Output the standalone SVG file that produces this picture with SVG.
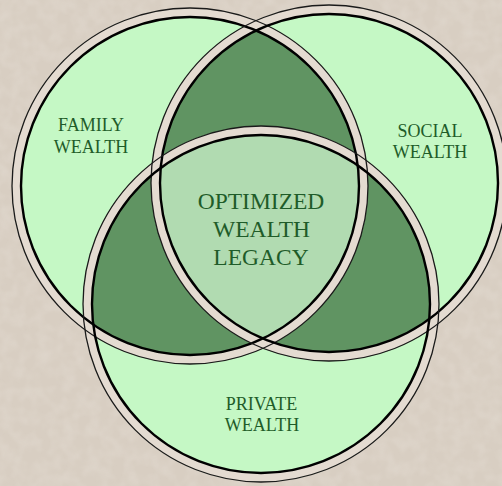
<svg xmlns="http://www.w3.org/2000/svg" width="502" height="486" viewBox="0 0 502 486">
<style>
.lt{fill:#c5f8c5}
.dk{fill:#609462}
.ct{fill:#b1dbb1}
.band{fill:none;stroke:#e4dbd1;stroke-width:9}
.thin{fill:none;stroke:#1a1a1a;stroke-width:1.3}
.thick{fill:none;stroke:#000;stroke-width:2.4}
.lbl{font-family:"Liberation Serif","Times New Roman",serif;fill:#1f5c29;text-anchor:middle}
.sm{font-size:18px}
.lg{font-size:23.5px}
</style>
<defs>
<clipPath id="cF"><circle cx="190" cy="186" r="178"/></clipPath>
<clipPath id="cS"><circle cx="329" cy="183" r="178"/></clipPath>
<filter id="tex" x="0" y="0" width="100%" height="100%">
<feTurbulence type="fractalNoise" baseFrequency="0.08" numOctaves="2" seed="3"/>
<feColorMatrix type="matrix" values="0 0 0 0 0.86  0 0 0 0 0.82  0 0 0 0 0.77  0 0 0 0.9 -0.3"/>
</filter>
</defs>
<g id="background">
<rect width="502" height="486" fill="#d8cec2"/>
<rect width="502" height="486" filter="url(#tex)" opacity="0.5"/>
</g>
<g id="regions">
<circle class="lt" cx="190" cy="186" r="178"/>
<circle class="lt" cx="329" cy="183" r="178"/>
<circle class="lt" cx="261" cy="304" r="178"/>
<g clip-path="url(#cF)">
<circle class="dk" cx="329" cy="183" r="178"/>
<circle class="dk" cx="261" cy="304" r="178"/>
</g>
<g clip-path="url(#cS)">
<circle class="dk" cx="261" cy="304" r="178"/>
</g>
<g clip-path="url(#cF)"><g clip-path="url(#cS)">
<circle class="ct" cx="261" cy="304" r="178"/>
</g></g>
</g>
<g id="bands">
<circle class="band" cx="190" cy="186" r="173.5"/>
<circle class="band" cx="329" cy="183" r="173.5"/>
<circle class="band" cx="261" cy="304" r="173.5"/>
</g>
<g id="family">
<circle class="thin" cx="190" cy="186" r="178"/>
<circle class="thick" cx="190" cy="186" r="169"/>
<text class="lbl sm" x="91" y="131">FAMILY</text>
<text class="lbl sm" x="91" y="152.5">WEALTH</text>
</g>
<g id="social">
<circle class="thin" cx="329" cy="183" r="178"/>
<circle class="thick" cx="329" cy="183" r="169"/>
<text class="lbl sm" x="430" y="137">SOCIAL</text>
<text class="lbl sm" x="430" y="157.5">WEALTH</text>
</g>
<g id="private">
<circle class="thin" cx="261" cy="304" r="178"/>
<circle class="thick" cx="261" cy="304" r="169"/>
<text class="lbl sm" x="261.5" y="409.5">PRIVATE</text>
<text class="lbl sm" x="262" y="431">WEALTH</text>
</g>
<g id="legacy">
<text class="lbl lg" x="261" y="209">OPTIMIZED</text>
<text class="lbl lg" x="261.5" y="237">WEALTH</text>
<text class="lbl lg" x="261" y="265">LEGACY</text>
</g>
<g id="connectors"/>
</svg>
